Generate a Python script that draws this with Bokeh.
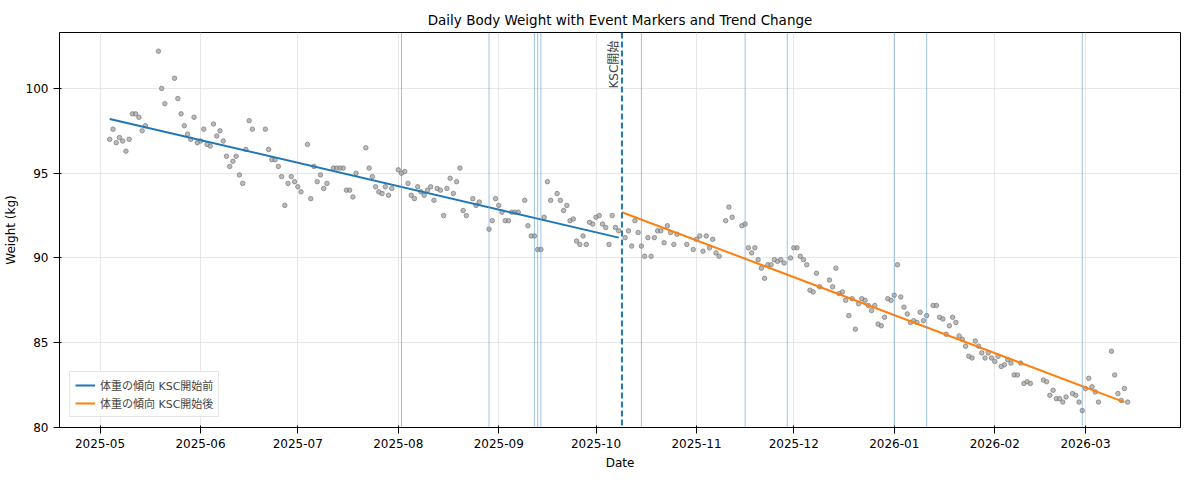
import numpy as np
import pandas as pd
from bokeh.plotting import figure
from bokeh.models import Span, Label, Range1d, FixedTicker, DatetimeTickFormatter, Legend, LegendItem
from bokeh.embed import file_html
from bokeh.resources import INLINE

START = "2025-05-01"
day = [3,4,5,6,7,8,9,10,11,12,13,14,18,19,20,23,24,25,26,27,28,29,30,31,32,33,34,35,36,37,38,39,40,41,42,43,44,45,46,47,51,52,53,54,55,56,57,58,59,60,61,62,64,65,66,67,68,69,70,72,73,74,75,76,77,78,79,82,83,84,85,86,87,88,89,90,92,93,94,95,96,97,98,99,100,101,102,103,104,105,106,107,108,109,110,111,112,113,115,116,117,120,121,122,123,124,125,126,127,128,129,131,132,133,134,135,136,137,138,139,141,142,143,144,145,146,147,148,149,150,151,152,153,154,155,156,157,158,159,160,
       162,163,164,165,166,167,168,169,170,171,172,173,174,175,176,177,178,181,183,184,185,186,187,188,189,190,191,193,194,195,198,199,200,201,202,203,204,205,206,207,208,209,210,211,213,214,215,216,217,218,219,220,221,222,225,226,227,228,229,230,231,232,233,234,235,236,237,238,239,240,241,242,243,244,245,246,247,248,249,250,251,252,253,254,255,257,258,259,260,261,262,263,264,265,266,267,268,269,270,271,272,273,274,275,276,277,278,279,280,281,282,283,284,285,286,287,291,292,293,294,295,296,297,298,300,301,302,303,304,305,306,307,308,312,313,314,315,316,317]
weight = [97.0,97.6,96.8,97.1,96.9,96.3,97.0,98.5,98.5,98.3,97.5,97.8,102.2,100.0,99.1,100.6,99.4,98.5,97.8,97.3,97.0,98.3,96.8,96.9,97.6,96.7,96.6,97.9,97.2,97.5,96.9,96.0,95.4,95.7,96.0,94.9,94.4,96.4,98.1,97.6,97.6,96.4,95.8,95.8,95.4,94.8,93.1,94.4,94.8,94.5,94.2,93.9,96.7,93.5,95.4,94.5,94.9,94.1,94.4,95.3,95.3,95.3,95.3,94.0,94.0,93.6,95.0,96.5,95.3,94.8,94.2,93.9,93.8,94.2,93.7,94.1,95.2,95.0,95.1,94.4,93.7,93.5,94.2,93.9,93.7,94.0,94.2,93.4,94.1,94.0,92.5,94.1,94.7,93.8,94.5,95.3,92.8,92.5,93.5,93.1,93.3,91.7,92.2,93.5,93.1,92.7,92.2,92.2,92.7,92.7,92.7,93.4,91.9,91.3,91.3,90.5,90.5,92.4,94.5,93.4,93.8,93.4,92.8,93.1,92.2,92.3,91.0,90.8,91.3,90.8,92.1,92.0,92.4,92.5,92.0,91.8,90.8,92.5,91.8,91.6,
          91.2,91.6,90.7,92.2,91.5,90.7,90.1,91.2,90.1,91.2,91.6,91.6,90.9,91.9,91.5,90.8,91.4,90.8,90.5,91.1,91.3,90.4,91.3,90.6,91.1,90.3,90.1,92.2,93.0,92.4,91.9,92.0,90.6,90.3,90.6,89.9,89.4,88.8,89.6,89.6,89.9,89.8,89.9,89.7,90.0,90.6,90.6,90.1,89.9,89.6,88.1,88.0,89.1,88.3,88.7,88.3,89.4,87.9,88.0,87.5,86.6,87.6,85.8,87.3,87.6,87.5,87.2,86.9,87.2,86.1,86.0,86.5,87.6,87.5,87.8,89.6,87.7,87.1,86.7,86.2,86.3,86.2,86.8,86.3,86.6,87.2,87.2,86.5,86.4,85.5,86.0,86.5,86.2,85.4,85.2,84.8,84.2,84.1,85.1,84.8,84.4,84.1,84.4,84.1,83.9,84.2,83.6,83.7,84.0,83.8,83.1,83.1,83.8,82.6,82.7,82.6,82.8,82.7,81.9,82.2,81.7,81.7,81.5,81.8,82.0,81.9,81.5,81.0,82.3,82.9,82.4,82.1,81.5,84.5,83.1,82.0,81.6,82.3,81.5]
event_days = [93,120,134,135,136,167,199,212,245,255,303]
ksc_day = 161
trend_pre_days = [3,160]
trend_pre_vals = [98.2,91.2]
trend_post_days = [161,316]
trend_post_vals = [92.7,81.5]
month_ticks = ["2025-05-01","2025-06-01","2025-07-01","2025-08-01","2025-09-01","2025-10-01","2025-11-01","2025-12-01","2026-01-01","2026-02-01","2026-03-01"]
y_ticks = [80,85,90,95,100]
labels = ["体重の傾向 KSC開始前", "体重の傾向 KSC開始後"]

t0 = pd.Timestamp(START)
def to_dt(d):
    return t0 + pd.to_timedelta(np.asarray(d), unit="D")
def ms(ts):
    return pd.Timestamp(ts).value / 1e6

FONT = "DejaVu Sans, Noto Sans CJK JP"
p = figure(width=1184, height=472, x_axis_type="datetime", output_backend="svg", toolbar_location=None,
           title="Daily Body Weight with Event Markers and Trend Change",
           min_border_left=37, min_border_right=4, min_border_top=32, min_border_bottom=0)
p.title.align = "center"; p.title.text_font = FONT; p.title.text_font_size = "13.5px"; p.title.text_font_style = "normal"
p.title.text_color = "black"
p.x_range = Range1d(ms(to_dt(-12.5)), ms(to_dt(333.3)))
p.y_range = Range1d(80, 103.3)
p.outline_line_color = "black"
p.xaxis.ticker = FixedTicker(ticks=[ms(t) for t in month_ticks])
p.xaxis.formatter = DatetimeTickFormatter(months="%Y-%m", days="%Y-%m", years="%Y-%m")
p.yaxis.ticker = FixedTicker(ticks=y_ticks)
p.xaxis.axis_label = "Date"; p.yaxis.axis_label = "Weight (kg)"
for ax in (p.xaxis, p.yaxis):
    ax.axis_label_text_font = FONT; ax.axis_label_text_font_style = "normal"; ax.axis_label_text_font_size = "12px"
    ax.major_label_text_font = FONT; ax.major_label_text_font_size = "12px"
    ax.major_label_text_color = "black"; ax.axis_label_text_color = "black"
    ax.minor_tick_line_color = None
    ax.axis_line_color = "black"; ax.major_tick_line_color = "black"
p.grid.grid_line_color = "#dddddd"; p.grid.grid_line_alpha = 0.7

for d in event_days:
    p.add_layout(Span(location=ms(to_dt(d)), dimension="height", line_color="#5b9bd5", line_alpha=0.6, line_width=1))

p.scatter(to_dt(day), weight, size=4.5, fill_color="#9e9e9e", fill_alpha=0.7, line_color="#777777", line_alpha=0.7)
r1 = p.line(to_dt(trend_pre_days), trend_pre_vals, line_color="#1f77b4", line_width=2)
r2 = p.line(to_dt(trend_post_days), trend_post_vals, line_color="#ff7f0e", line_width=2)
p.add_layout(Span(location=ms(to_dt(ksc_day)), dimension="height", line_color="#1f77b4", line_width=2, line_dash="6 3"))
p.add_layout(Label(x=ms(to_dt(ksc_day)), y=103.3, y_offset=-56, text="KSC開始", angle=np.pi/2, text_align="left",
                   text_baseline="bottom", text_font=FONT, text_font_size="12px", x_offset=-1))

leg = Legend(items=[LegendItem(label=labels[0], renderers=[r1]), LegendItem(label=labels[1], renderers=[r2])],
             location="bottom_left", label_text_font=FONT, label_text_font_size="11px",
             border_line_color="#cccccc", padding=5, spacing=2, glyph_height=14, label_height=14)
p.add_layout(leg)

open("out.html", "w").write(file_html(p, INLINE))
